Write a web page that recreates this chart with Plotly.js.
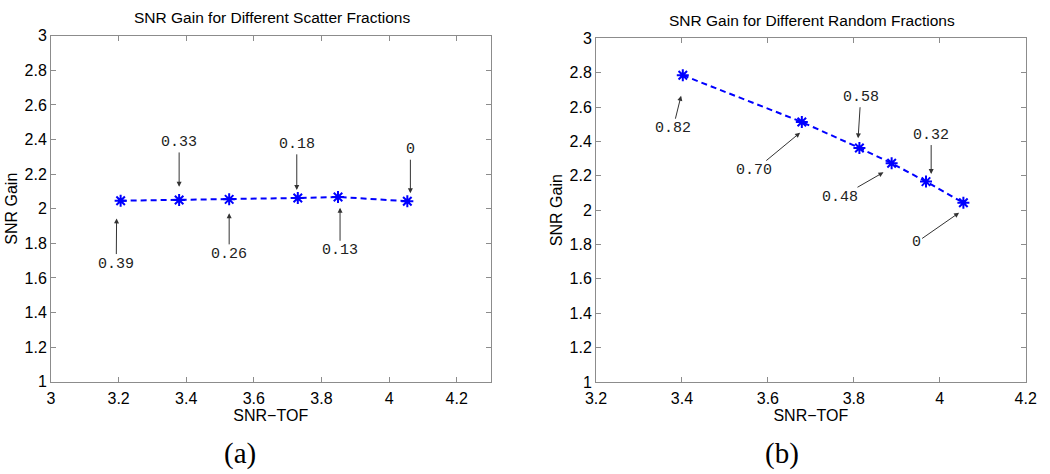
<!DOCTYPE html>
<html>
<head>
<meta charset="utf-8">
<script src="https://cdn.plot.ly/plotly-3.0.1.min.js"></script>
<style>html,body{margin:0;padding:0;background:#fff;}#chart{width:1050px;height:474px;}</style>
</head>
<body>
<div id="chart"></div>
<script>
// Panel (a): scatter fractions
const scatterX = [3.206, 3.379, 3.527, 3.730, 3.849, 4.054];
const scatterY = [2.046, 2.050, 2.054, 2.062, 2.068, 2.043];
const scatterLabels = ["0.39", "0.33", "0.26", "0.18", "0.13", "0"];
// label positions (data units) and arrow heads
const scatterHeadX = [3.194, 3.379, 3.527, 3.727, 3.855, 4.063];
const scatterHeadY = [1.944, 2.127, 1.973, 2.108, 2.006, 2.089];
const scatterTextX = [3.193, 3.379, 3.527, 3.727, 3.855, 4.063];
const scatterTextY = [1.680, 2.383, 1.736, 2.372, 1.757, 2.341];

// Panel (b): random fractions
const randomX = [3.402, 3.679, 3.813, 3.888, 3.968, 4.055];
const randomY = [2.785, 2.513, 2.362, 2.273, 2.166, 2.043];
const randomLabels = ["0.82", "0.70", "0.58", "0.48", "0.32", "0"];
const randomHeadX = [3.398, 3.675, 3.810, 3.869, 3.980, 4.045];
const randomHeadY = [2.666, 2.451, 2.418, 2.220, 2.210, 1.985];
const randomTextX = [3.379, 3.568, 3.816, 3.768, 3.980, 3.945];
const randomTextY = [2.474, 2.230, 2.657, 2.075, 2.437, 1.811];

const titleA = "SNR Gain for Different Scatter Fractions";
const titleB = "SNR Gain for Different Random Fractions";
const xTitle = "SNR\u2212TOF";
const yTitle = "SNR Gain";

const lineStyle = {color: "#0000ff", width: 2, dash: "6px,4px"};
const markerStyle = {symbol: "asterisk-open", size: 10, color: "#0000ff", line: {color: "#0000ff", width: 2}};

const traces = [
  {x: scatterX, y: scatterY, xaxis: "x", yaxis: "y", mode: "lines+markers", line: lineStyle, marker: markerStyle, showlegend: false, hoverinfo: "x+y"},
  {x: randomX, y: randomY, xaxis: "x2", yaxis: "y2", mode: "lines+markers", line: lineStyle, marker: markerStyle, showlegend: false, hoverinfo: "x+y"}
];

const monoFont = {family: "Liberation Mono, Courier New, monospace", size: 15, color: "#222"};
function makeAnn(labels, hx, hy, tx, ty, xr, yr) {
  return labels.map((t, i) => ({
    text: t, x: hx[i], y: hy[i], ax: tx[i], ay: ty[i],
    xref: xr, yref: yr, axref: xr, ayref: yr,
    showarrow: true, arrowhead: 2, arrowsize: 1, arrowwidth: 1, arrowcolor: "#333",
    standoff: 0, font: monoFont
  }));
}

const tickFont = {family: "Liberation Sans, Arial, sans-serif", size: 16, color: "#000"};
const axisCommon = {
  showgrid: false, zeroline: false, showline: true, mirror: "ticks",
  linecolor: "#8c8c8c", linewidth: 1, ticks: "inside", ticklen: 5, tickcolor: "#8c8c8c",
  tickfont: tickFont, automargin: false
};
const titleFont = {family: "Liberation Sans, Arial, sans-serif", size: 16, color: "#000"};
const headFont = {family: "Liberation Sans, Arial, sans-serif", size: 15.5, color: "#000"};

const annotations = [
  ...makeAnn(scatterLabels, scatterHeadX, scatterHeadY, scatterTextX, scatterTextY, "x", "y"),
  ...makeAnn(randomLabels, randomHeadX, randomHeadY, randomTextX, randomTextY, "x2", "y2"),
  {text: titleA, xref: "paper", yref: "paper", x: 271.7/1050, y: 1 - 17.7/474, showarrow: false, xanchor: "center", yanchor: "middle", font: headFont},
  {text: titleB, xref: "paper", yref: "paper", x: 811.7/1050, y: 1 - 20.7/474, showarrow: false, xanchor: "center", yanchor: "middle", font: headFont},
  {text: "(a)", xref: "paper", yref: "paper", x: 240/1050, y: 1 - 453/474, showarrow: false, xanchor: "center", yanchor: "middle", font: {family: "Liberation Serif, Times New Roman, serif", size: 29, color: "#000"}},
  {text: "(b)", xref: "paper", yref: "paper", x: 781.7/1050, y: 1 - 453/474, showarrow: false, xanchor: "center", yanchor: "middle", font: {family: "Liberation Serif, Times New Roman, serif", size: 29, color: "#000"}}
];

const layout = {
  width: 1050, height: 474,
  margin: {l: 0, r: 0, t: 0, b: 0},
  paper_bgcolor: "#fff", plot_bgcolor: "#fff",
  font: {family: "Liberation Sans, Arial, sans-serif"},
  xaxis: Object.assign({}, axisCommon, {domain: [51/1050, 490.5/1050], range: [3, 4.3], tickvals: [3, 3.2, 3.4, 3.6, 3.8, 4, 4.2], anchor: "y",
    ticklabelstandoff: 2, title: {text: xTitle, font: titleFont, standoff: 0}}),
  yaxis: Object.assign({}, axisCommon, {domain: [92.3/474, 438.3/474], range: [1, 3], dtick: 0.2, anchor: "x",
    title: {text: yTitle, font: titleFont, standoff: 2}}),
  xaxis2: Object.assign({}, axisCommon, {domain: [596/1050, 1025.7/1050], range: [3.2, 4.2], dtick: 0.2, anchor: "y2",
    ticklabelstandoff: 2, title: {text: xTitle, font: titleFont, standoff: 0}}),
  yaxis2: Object.assign({}, axisCommon, {domain: [92/474, 435.7/474], range: [1, 3], dtick: 0.2, anchor: "x2",
    title: {text: yTitle, font: titleFont, standoff: 2}}),
  annotations: annotations
};

Plotly.newPlot("chart", traces, layout, {displayModeBar: false, staticPlot: true});
</script>
</body>
</html>
